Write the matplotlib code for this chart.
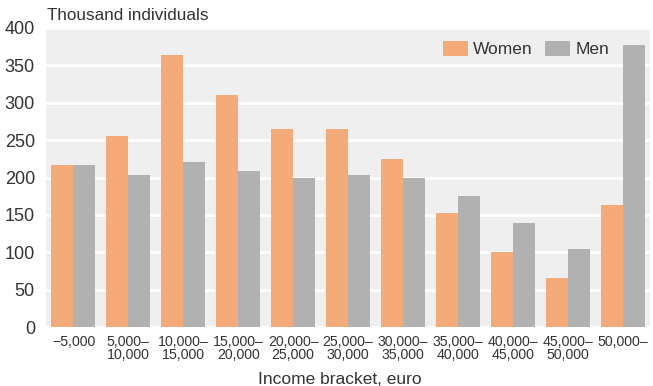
import matplotlib.pyplot as plt
import numpy as np

plt.rcParams['font.family'] = ['Liberation Sans', 'DejaVu Sans']

brackets = ['\u22125,000', '5,000\u2013\n10,000', '10,000\u2013\n15,000', '15,000\u2013\n20,000',
            '20,000\u2013\n25,000', '25,000\u2013\n30,000', '30,000\u2013\n35,000',
            '35,000\u2013\n40,000', '40,000\u2013\n45,000', '45,000\u2013\n50,000', '50,000\u2013']
women = [217, 255, 364, 311, 265, 265, 225, 153, 100, 65, 163]
men = [217, 204, 221, 209, 200, 203, 200, 175, 139, 105, 377]

orange = '#f4ab79'
grey = '#b1b1b1'
text_col = '#333333'

fig = plt.figure(figsize=(6.53, 3.86), dpi=100)
ax = fig.add_axes([46 / 653, 1 - 327 / 386, 604 / 653, 299 / 386])
ax.set_facecolor('#efefef')

x = np.arange(len(brackets))
w = 0.4
ax.bar(x - w / 2, women, w, color=orange, label='Women', zorder=3)
ax.bar(x + w / 2, men, w, color=grey, label='Men', zorder=3)

ax.set_xlim(-0.5, len(brackets) - 0.5)
ax.set_ylim(0, 400)
ax.set_yticks(range(0, 401, 50))
ax.yaxis.grid(True, color='white', linewidth=2, zorder=1)
ax.set_axisbelow(True)
for s in ax.spines.values():
    s.set_visible(False)
ax.tick_params(axis='y', length=0, labelsize=13, labelcolor=text_col, pad=8)
ax.tick_params(axis='x', length=0, labelsize=10.2, labelcolor=text_col, pad=6)
ax.set_xticks(x)
ax.set_xticklabels(brackets, linespacing=0.9)

# x axis title placed by hand so it stays inside the figure
fig.text(340 / 653, 1 - 379 / 386, 'Income bracket, euro', fontsize=12.5, color=text_col,
         va='center', ha='center')
fig.text(47 / 653, 1 - 16 / 386, 'Thousand individuals', fontsize=12.3, color=text_col,
         va='center', ha='left')

leg = ax.legend(loc='upper right', frameon=False, fontsize=12.5, ncol=2,
                handlelength=1.45, handleheight=1.0, handletextpad=0.3,
                columnspacing=0.7, bbox_to_anchor=(0.958, 1.01))
for t in leg.get_texts():
    t.set_color(text_col)

fig.savefig('out.png', dpi=100)
